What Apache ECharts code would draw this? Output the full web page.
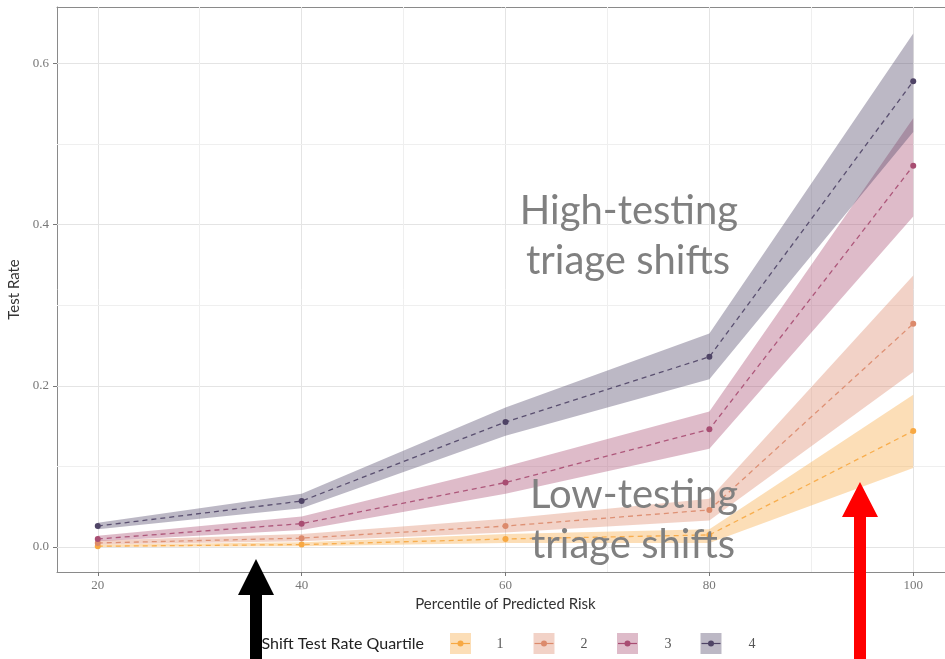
<!DOCTYPE html>
<html><head><meta charset="utf-8">
<script src="https://cdn.jsdelivr.net/npm/echarts@6/dist/echarts.min.js"></script>
<style>html,body{margin:0;padding:0;background:#fff}#c{width:945px;height:659px}</style>
</head><body><div id="c"></div>
<script>
// ---- data ----
const percentiles = [20, 40, 60, 80, 100];
const quartiles = ['1', '2', '3', '4'];

const q1Mean = [0.001, 0.003, 0.010, 0.015, 0.144];
const q1Lo   = [0.000, 0.001, 0.005, 0.005, 0.098];
const q1Hi   = [0.003, 0.006, 0.016, 0.022, 0.189];

const q2Mean = [0.005, 0.011, 0.026, 0.046, 0.277];
const q2Lo   = [0.003, 0.007, 0.018, 0.033, 0.217];
const q2Hi   = [0.008, 0.016, 0.035, 0.060, 0.337];

const q3Mean = [0.010, 0.029, 0.080, 0.146, 0.473];
const q3Lo   = [0.007, 0.021, 0.066, 0.122, 0.410];
const q3Hi   = [0.014, 0.038, 0.100, 0.168, 0.532];

const q4Mean = [0.026, 0.057, 0.155, 0.236, 0.578];
const q4Lo   = [0.022, 0.048, 0.138, 0.208, 0.515];
const q4Hi   = [0.030, 0.066, 0.173, 0.265, 0.637];

const xTicks = [20, 40, 60, 80, 100];
const yTicks = [0, 0.2, 0.4, 0.6];
const xMinor = [30, 50, 70, 90];
const yMinor = [0.1, 0.3, 0.5];

// ---- styles ----
const colors = ['#f7a843', '#dc8a6c', '#a84d72', '#4f4466'];
const bandOpacity = 0.38;
function rgba(hex, a) {
  const n = parseInt(hex.slice(1), 16);
  return 'rgba(' + (n >> 16 & 255) + ',' + (n >> 8 & 255) + ',' + (n & 255) + ',' + a + ')';
}
const means = [q1Mean, q2Mean, q3Mean, q4Mean];
const los = [q1Lo, q2Lo, q3Lo, q4Lo];
const his = [q1Hi, q2Hi, q3Hi, q4Hi];

const series = [];
// gridlines helper
series.push({
  type: 'line', data: [], silent: true,
  markLine: {
    silent: true, z: 1, animation: false, symbol: ['none', 'none'], label: { show: false },
    data: [
      ...yTicks.map(v => ({ yAxis: v, lineStyle: { color: '#e4e4e4', width: 1, type: 'solid' } })),
      ...xTicks.map(v => ({ xAxis: v, lineStyle: { color: '#e4e4e4', width: 1, type: 'solid' } })),
      ...yMinor.map(v => ({ yAxis: v, lineStyle: { color: '#efefef', width: 1, type: 'solid' } })),
      ...xMinor.map(v => ({ xAxis: v, lineStyle: { color: '#efefef', width: 1, type: 'solid' } }))
    ]
  }
});
quartiles.forEach((q, i) => {
  series.push({
    type: 'custom', silent: true, z: 2,
    data: percentiles.map((x, k) => [x, los[i][k], his[i][k]]),
    encode: { x: 0, y: [1, 2] },
    renderItem: (params, api) => {
      if (params.dataIndex !== 0) return null;
      const top = percentiles.map((x, k) => api.coord([x, his[i][k]]));
      const bot = percentiles.map((x, k) => api.coord([x, los[i][k]])).reverse();
      return { type: 'polygon', shape: { points: top.concat(bot) }, style: { fill: rgba(colors[i], bandOpacity) } };
    }
  });
});
quartiles.forEach((q, i) => {
  series.push({
    type: 'line', name: q, z: 3, symbol: 'circle', symbolSize: 6,
    itemStyle: { color: colors[i] },
    lineStyle: { color: colors[i], width: 1.3, type: [5, 4], opacity: 0.9 },
    data: percentiles.map((x, k) => [x, means[i][k]])
  });
});

// legend drawn as graphic
const legendX = [450, 533.5, 617, 700.5];
const legendLabelX = [500, 584, 668, 752];
const legendY = 633, boxW = 21, boxH = 21;
const graphic = [];
graphic.push({ type: 'text', z: 10, style: { text: 'Shift Test Rate Quartile', x: 424, y: 644, align: 'right', textAlign: 'right', verticalAlign: 'middle', textVerticalAlign: 'middle', font: '16px Lato', fill: '#222' } });
quartiles.forEach((q, i) => {
  const bx = legendX[i];
  graphic.push({ type: 'rect', z: 10, shape: { x: bx, y: legendY, width: boxW, height: boxH }, style: { fill: rgba(colors[i], bandOpacity) } });
  graphic.push({ type: 'line', z: 11, shape: { x1: bx + 1, y1: legendY + boxH / 2, x2: bx + boxW - 1, y2: legendY + boxH / 2 }, style: { stroke: colors[i], lineWidth: 1.2 } });
  graphic.push({ type: 'circle', z: 12, shape: { cx: bx + boxW / 2, cy: legendY + boxH / 2, r: 3 }, style: { fill: colors[i] } });
  graphic.push({ type: 'text', z: 10, style: { text: q, x: legendLabelX[i], y: 644, align: 'center', textAlign: 'center', verticalAlign: 'middle', textVerticalAlign: 'middle', font: '14px "Liberation Serif"', fill: '#555' } });
});
// annotations
const annFont = '40px Lato';
[['High-testing', 629, 211], ['triage shifts', 628, 261], ['Low-testing', 634, 495], ['triage shifts', 633, 545]].forEach(a => {
  graphic.push({ type: 'text', z: 15, style: { text: a[0], x: a[1], y: a[2], align: 'center', textAlign: 'center', verticalAlign: 'middle', textVerticalAlign: 'middle', font: annFont, fill: '#808080' } });
});
// arrows
graphic.push({ type: 'polygon', z: 20, shape: { points: [[256, 559], [274, 595], [262, 595], [262, 659], [250, 659], [250, 595], [238, 595]] }, style: { fill: '#000' } });
graphic.push({ type: 'polygon', z: 20, shape: { points: [[860, 482], [878, 517], [866, 517], [866, 659], [854, 659], [854, 517], [842, 517]] }, style: { fill: '#ff0000' } });

const chart = echarts.init(document.getElementById('c'), null, { renderer: 'canvas' });
chart.setOption({
  animation: false,
  backgroundColor: '#fff',
  grid: { left: 57, top: 7, right: -9, bottom: 87, outerBoundsMode: 'none', containLabel: false, show: false },
  xAxis: [{
    type: 'value', min: 16, max: 104, position: 'bottom',
    axisLine: { show: true, onZero: false, lineStyle: { color: '#8a8a8a', width: 1 } },
    axisTick: { show: true, customValues: xTicks, length: 4, lineStyle: { color: '#777' } },
    axisLabel: { customValues: xTicks, color: '#777', fontFamily: 'Liberation Serif', fontSize: 13, margin: 7 },
    splitLine: { show: false },
    name: 'Percentile of Predicted Risk', nameLocation: 'middle', nameGap: 22,
    nameTextStyle: { fontFamily: 'Lato', fontSize: 15, color: '#333' }
  }, {
    type: 'value', min: 16, max: 104, position: 'top',
    axisLine: { show: true, onZero: false, lineStyle: { color: '#8a8a8a', width: 1 } },
    axisTick: { show: false }, axisLabel: { show: false }, splitLine: { show: false }
  }],
  yAxis: {
    type: 'value', min: -0.031, max: 0.670,
    axisLine: { show: true, onZero: false, lineStyle: { color: '#8a8a8a', width: 1 } },
    axisTick: { show: true, customValues: yTicks, length: 4, lineStyle: { color: '#777' } },
    axisLabel: { customValues: yTicks, color: '#777', fontFamily: 'Liberation Serif', fontSize: 13, margin: 8, formatter: v => v.toFixed(1) },
    splitLine: { show: false },
    name: 'Test Rate', nameLocation: 'middle', nameGap: 31, nameRotate: 90,
    nameTextStyle: { fontFamily: 'Lato', fontSize: 15, color: '#333' }
  },
  series: series,
  graphic: graphic
});
</script></body></html>
